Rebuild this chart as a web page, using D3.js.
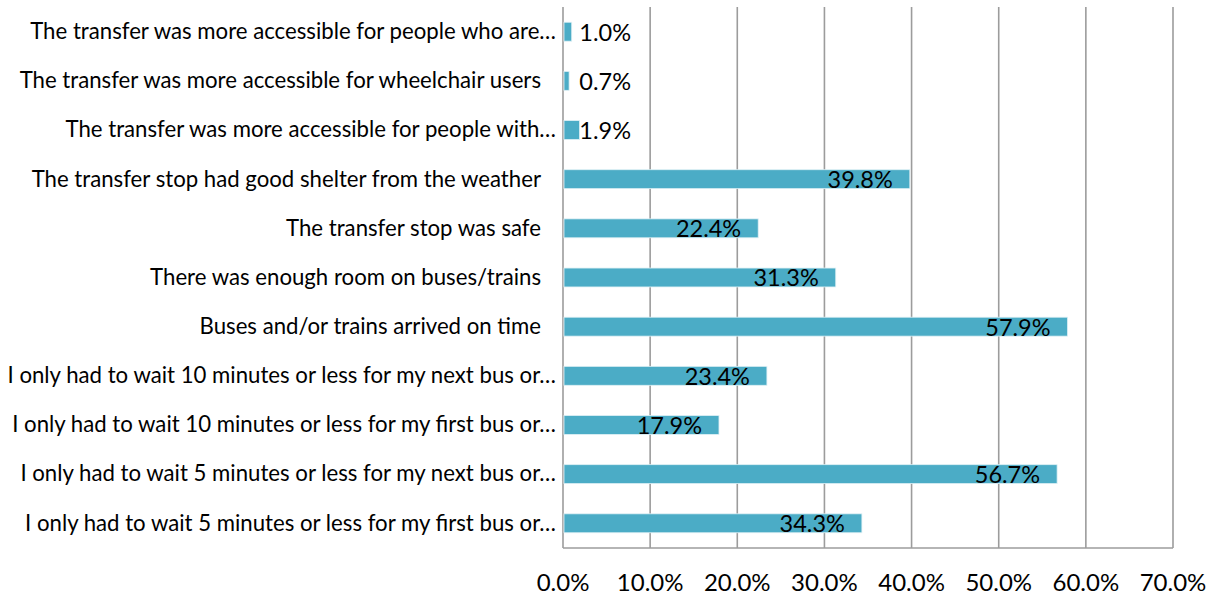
<!DOCTYPE html>
<html>
<head>
<meta charset="utf-8">
<script src="https://cdn.jsdelivr.net/npm/d3@7"></script>
<style>
  html, body { margin: 0; padding: 0; background: #fff; }
  svg { display: block; }
  text { font-family: Lato, "Open Sans", sans-serif; fill: #000; }
</style>
</head>
<body>
<svg id="chart" width="1215" height="597"></svg>
<script>
// Survey responses, listed from top to bottom
const categories = [
  "The transfer was more accessible for people who are…",
  "The transfer was more accessible for wheelchair users",
  "The transfer was more accessible for people with…",
  "The transfer stop had good shelter from the weather",
  "The transfer stop was safe",
  "There was enough room on buses/trains",
  "Buses and/or trains arrived on time",
  "I only had to wait 10 minutes or less for my next bus or…",
  "I only had to wait 10 minutes or less for my first bus or…",
  "I only had to wait 5 minutes or less for my next bus or…",
  "I only had to wait 5 minutes or less for my first bus or…"
];
const values = [1.0, 0.7, 1.9, 39.8, 22.4, 31.3, 57.9, 23.4, 17.9, 56.7, 34.3];
const xTicks = [0, 10, 20, 30, 40, 50, 60, 70];

const svg = d3.select("#chart");
const plot = { left: 563, right: 1173, top: 7, bottom: 548 };

const x = d3.scaleLinear().domain([0, 70]).range([plot.left, plot.right]);
const y = d3.scaleBand().domain(categories).range([plot.top, plot.bottom]).paddingInner(0.615).paddingOuter(0.31);

const fmt = v => v.toFixed(1) + "%";

// vertical gridlines
svg.append("g")
  .selectAll("line")
  .data(xTicks)
  .join("line")
  .attr("x1", d => x(d)).attr("x2", d => x(d))
  .attr("y1", plot.top).attr("y2", plot.bottom)
  .attr("stroke", "#9c9c9c")
  .attr("stroke-width", 1.6);

// bottom axis line
svg.append("line")
  .attr("x1", plot.left).attr("x2", plot.right)
  .attr("y1", plot.bottom).attr("y2", plot.bottom)
  .attr("stroke", "#9c9c9c")
  .attr("stroke-width", 1.6);

// bars
svg.append("g")
  .selectAll("rect")
  .data(values)
  .join("rect")
  .attr("x", x(0) + 1)
  .attr("y", (d, i) => y(categories[i]))
  .attr("width", d => x(d) - x(0) - 1)
  .attr("height", y.bandwidth())
  .attr("fill", "#4bacc6")
  .attr("stroke", "#dff0f5")
  .attr("stroke-width", 0.8);

// x tick labels
svg.append("g")
  .selectAll("text")
  .data(xTicks)
  .join("text")
  .attr("x", d => x(d))
  .attr("y", 591)
  .attr("text-anchor", "middle")
  .style("font-size", "24px")
  .text(d => d.toFixed(1) + "%");

// category labels
svg.append("g")
  .selectAll("text")
  .data(categories)
  .join("text")
  .attr("x", d => d.endsWith("…") ? 556 : 541)
  .attr("y", d => y(d) + y.bandwidth() / 2)
  .attr("dy", "0.33em")
  .attr("text-anchor", "end")
  .style("font-size", "22.2px")
  .text(d => d);

// value labels: inside the bar end, or just right of the axis for short bars
const minLabelRight = x(0) + 68;
svg.append("g")
  .selectAll("text")
  .data(values)
  .join("text")
  .attr("x", d => Math.max(x(d) - 17, minLabelRight))
  .attr("y", (d, i) => y(categories[i]) + y.bandwidth() - 0.5)
  .attr("text-anchor", "end")
  .style("font-size", "23.5px")
  .text(d => fmt(d));
</script>
</body>
</html>
